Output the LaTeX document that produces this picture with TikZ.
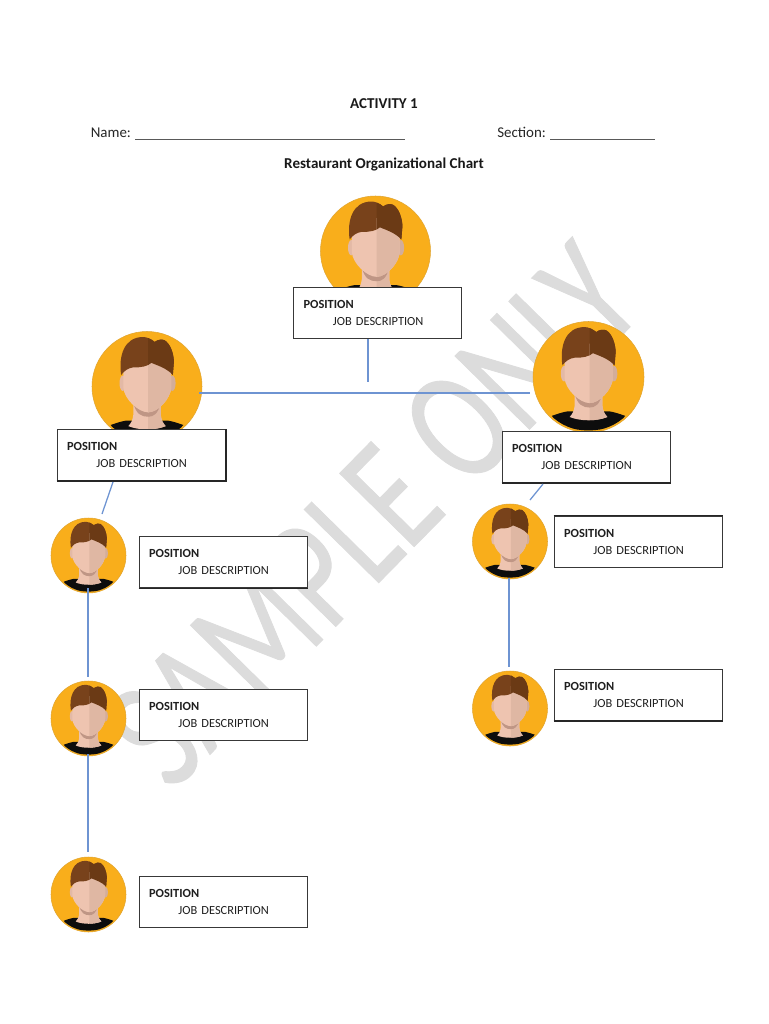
\documentclass[tikz,border=0pt]{standalone}
\usepackage{fontspec}
\setmainfont{Carlito}
\newfontfamily\wmfont[FakeBold=0.6]{Carlito}
\usetikzlibrary{calc}
\definecolor{discfill}{HTML}{F9AE1B}
\definecolor{hairL}{HTML}{78421B}
\definecolor{hairR}{HTML}{6B3A15}
\definecolor{faceL}{HTML}{EEC4B0}
\definecolor{faceR}{HTML}{DFB7A3}
\definecolor{earL}{HTML}{E3B9A6}
\definecolor{earR}{HTML}{D3AD9A}
\definecolor{chinshade}{HTML}{BF9685}
\definecolor{linkblue}{HTML}{6E94D2}
\definecolor{markgray}{HTML}{DCDCDC}
\tikzset{
  x=0.75pt,y=-0.75pt,
  infobox/.style={draw=black!78,line width=0.85pt,fill=white,anchor=north west,
    minimum width=126pt,minimum height=38.5pt,text width=111pt,inner xsep=7.5pt,inner ysep=0pt,
    align=left,font=\fontsize{9.3pt}{12.7pt}\selectfont,text=black!88},
  heavy edge/.style={draw=black!85,line width=1.4pt},
  link line/.style={draw=linkblue,line width=0.95pt},
  avatar disc/.style={circle,fill=discfill,draw=discfill!80!gray,line width=0.4pt,inner sep=0pt},
  heading/.style={font=\fontsize{11.3pt}{13pt}\selectfont\bfseries,text=black!90},
  formline/.style={font=\fontsize{11.2pt}{13pt}\selectfont,text=black!85,anchor=base west,inner sep=0pt}
}
\def\neckpath{(-.25,.2) -- (-.25,.52) .. controls (-.26,.62) and (-.3,.68) .. (-.34,.72) .. controls (-.15,.8) and (.15,.8) .. (.34,.72) .. controls (.3,.68) and (.26,.62) .. (.25,.52) -- (.25,.2) -- cycle}
\def\facepath{(-.43,-.3) -- (-.43,.02) .. controls (-.42,.22) and (-.16,.47) .. (.02,.47) .. controls (.2,.47) and (.43,.22) .. (.44,.02) -- (.44,-.3) -- (.3,-.6) -- (-.3,-.6) -- cycle}
\def\hairpath{(-.47,-.21) .. controls (-.52,-.55) and (-.42,-.9) .. (-.07,-.9) .. controls (.0,-.9) and (.08,-.86) .. (.14,-.81) .. controls (.2,-.86) and (.28,-.86) .. (.32,-.84) .. controls (.42,-.78) and (.48,-.62) .. (.49,-.46) -- (.47,-.21) .. controls (.36,-.33) and (.2,-.38) .. (.08,-.43) .. controls (.02,-.37) and (-.12,-.34) .. (-.24,-.35) .. controls (-.34,-.34) and (-.42,-.28) .. (-.47,-.21) -- cycle}
\newcommand{\avatar}[4]{%
  \node[avatar disc,minimum size=#4*1.5pt] (#1) at (#2,#3) {};
  \begin{scope}[shift={(#2,#3)},x=#4*0.75pt,y=-#4*0.75pt]
    \clip (0,0) circle (.97);
    \fill[black!95] (-.66,.7) .. controls (-.55,.66) and (-.45,.63) .. (-.38,.62) -- (.38,.62) .. controls (.45,.63) and (.55,.66) .. (.66,.7) .. controls (.45,1.05) and (-.45,1.05) .. (-.66,.7) -- cycle;
    \fill[earL] (-.44,-.06) ellipse (.06 and .14);
    \fill[earR] (.46,-.06) ellipse (.06 and .14);
    \fill[faceL] \neckpath;
    \begin{scope}
      \clip (.02,-1) rectangle (1,1);
      \fill[faceR] \neckpath;
    \end{scope}
    \fill[chinshade] (-.25,.3) .. controls (-.2,.5) and (-.1,.55) .. (.02,.55) .. controls (.12,.55) and (.2,.5) .. (.25,.3) -- cycle;
    \fill[faceL] \facepath;
    \fill[hairL] \hairpath;
    \begin{scope}
      \clip (.02,-1) rectangle (1,1);
      \fill[faceR] \facepath;
      \fill[hairR] \hairpath;
    \end{scope}
  \end{scope}
}
\newcommand{\infobox}[3]{%
  \node[infobox] (#1) at (#2,#3) {\textbf{POSITION}\\\hspace*{22pt}JOB DESCRIPTION};
}
\begin{document}
\begin{tikzpicture}
\useasboundingbox (0,0) rectangle (768,1024);
\fill[white] (0,0) rectangle (768,1024);
% watermark
\node[rotate=45.5,text=markgray,font=\fontsize{122pt}{122pt}\wmfont,inner sep=0pt] (watermark) at (372,515) {\scalebox{.735}[1]{SAMPLE ONLY}};
% heading
\node[heading] (title) at (384,103.5) {ACTIVITY 1};
\node[formline] (name) at (90.5,137.3) {Name: {\color{black!65}\rule[-1.7pt]{202.5pt}{0.5pt}}};
\node[formline] (section) at (497,137.3) {Section: {\color{black!65}\rule[-1.7pt]{78.75pt}{0.5pt}}};
\node[heading] (chart) at (384,164) {Restaurant Organizational Chart};
% connectors' free ends
\coordinate (topend) at (368,382);
\coordinate (lbstart) at (113,482);
\coordinate (lbend) at (102,514);
\coordinate (rbstart) at (543,484);
\coordinate (rbend) at (530,500);
\coordinate (hlevel) at (0,393);
% avatars
\avatar{atop}{375.5}{251}{55}
\avatar{aleft}{147}{386.5}{55}
\avatar{aright}{588.5}{377}{55.5}
\avatar{la}{88.5}{555.5}{37.5}
\avatar{lb}{88.5}{718.5}{37.5}
\avatar{lc}{88.5}{894.5}{37.5}
\avatar{ra}{510}{541.5}{37.5}
\avatar{rb}{510}{708.5}{37.5}
% boxes
\infobox{btop}{293}{287}
\infobox{bleft}{56.5}{428.5}
\infobox{bright}{501.5}{430.5}
\infobox{bla}{138.5}{536}
\infobox{blb}{138.5}{689}
\infobox{blc}{138.5}{875.5}
\infobox{bra}{553.5}{515.5}
\infobox{brb}{553.5}{668.5}
% heavier edges
\draw[heavy edge] (bleft.south west) -- (bleft.south east) -- (bleft.north east);
\draw[heavy edge] (bright.south west) -- (bright.south east);
\draw[heavy edge] (bla.south west) -- (bla.south east);
\draw[heavy edge] (bra.north west) -- (bra.north east);
\draw[heavy edge] (brb.south west) -- (brb.south east);
% connectors
\draw[link line] (btop.south -| topend) -- (topend);
\draw[link line] ($(aleft.east |- hlevel)+(-3,0)$) -- ($(aright.west |- hlevel)+(-3,0)$);
\draw[link line] (lbstart) -- (lbend);
\draw[link line] (rbstart) -- (rbend);
\draw[link line] ($(la.south)+(-.5,-5)$) -- ($(lb.north)+(-.5,-4)$);
\draw[link line] ($(lb.south)+(-.5,-2)$) -- ($(lc.north)+(-.5,-5)$);
\draw[link line] ($(ra.south)+(-1,-1)$) -- ($(rb.north)+(-1,-4)$);
\end{tikzpicture}
\end{document}
